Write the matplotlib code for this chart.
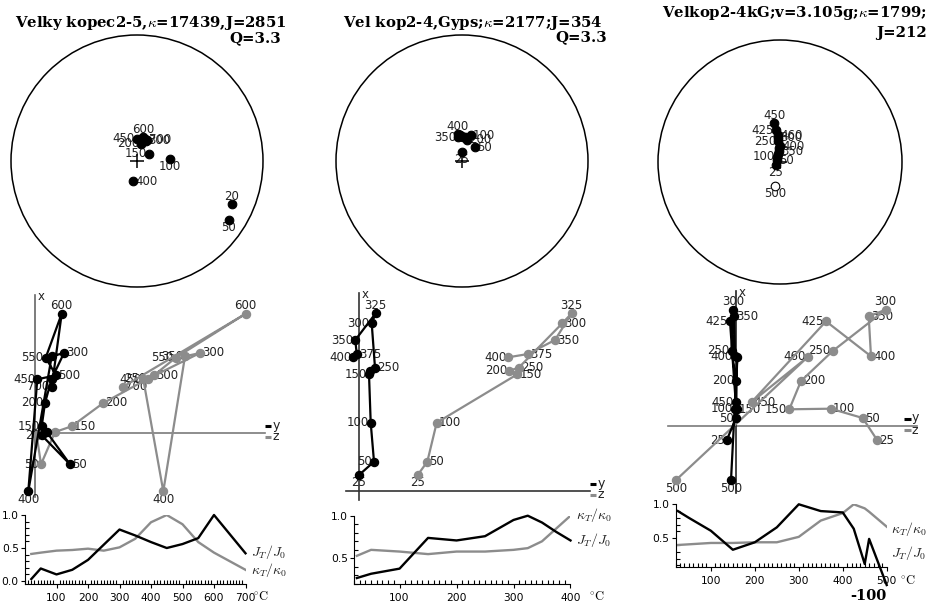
import matplotlib
matplotlib.use('Agg')
import matplotlib.pyplot as plt
from matplotlib.patches import Circle
from matplotlib.ticker import MultipleLocator, FixedLocator

plt.rcParams['mathtext.fontset'] = 'cm'
plt.rcParams['axes.unicode_minus'] = False
plt.rcParams['font.family'] = ['Liberation Sans Narrow', 'DejaVu Sans']

W, H = 929, 605
GRAY = '#8c8c8c'

# ---- sample 1: Velky kopec 2-5 ----
T1 = [20, 50, 100, 150, 200, 250, 300, 350, 400, 450, 500, 550, 600, 700]
J1 = [0.03, 0.19, 0.10, 0.17, 0.32, 0.55, 0.78, 0.69, 0.59, 0.50, 0.56, 0.65, 1.00, 0.42]
K1 = [0.41, 0.43, 0.46, 0.47, 0.49, 0.46, 0.51, 0.64, 0.89, 1.00, 0.86, 0.59, 0.43, 0.17]
# Zijderveld components (x vertical, y black, z gray)
zx1 = [-2.3, -31.3, 1.0, 6.7, 30.0, 54.3, 80.0, 76.7, -58.3, 53.7, 57.7, 75.3, 119.3, 46.0]
zy1 = [6.7, 35.0, 11.7, 6.7, 10.0, 16.7, 29.0, 16.7, -6.7, 2.3, 21.0, 10.7, 26.7, 16.7]
zz1 = [1.7, 6.0, 20.0, 36.7, 68.3, 113.0, 165.0, 150.0, 128.3, 108.3, 119.0, 140.7, 210.7, 87.7]
# stereonet positions (unit circle)
nx1 = [0.754, 0.730, 0.262, 0.095, 0.032, 0.040, 0.071, 0.056, -0.032, 0.000, 0.048, 0.063, 0.048, 0.079]
ny1 = [-0.341, -0.468, 0.016, 0.056, 0.135, 0.160, 0.159, 0.167, -0.159, 0.175, 0.167, 0.175, 0.190, 0.167]

# ---- sample 2: Vel kop 2-4, Gyps ----
T2 = [25, 50, 100, 150, 200, 250, 300, 325, 350, 375, 400]
J2 = [0.27, 0.32, 0.38, 0.74, 0.71, 0.76, 0.95, 1.00, 0.92, 0.81, 0.71]
K2 = [0.53, 0.60, 0.58, 0.55, 0.58, 0.58, 0.60, 0.62, 0.70, 0.85, 1.00]
zx2 = [16.0, 29.3, 68.3, 116.7, 120.3, 123.3, 167.7, 177.7, 151.0, 137.0, 133.7]
zy2 = [0.0, 15.0, 11.7, 10.0, 11.0, 16.0, 12.7, 16.7, -3.7, -2.3, -5.7]
zz2 = [58.7, 68.3, 77.7, 158.3, 150.3, 159.7, 203.3, 212.7, 196.0, 169.0, 149.3]
nx2 = [0.0, 0.103, 0.071, 0.024, 0.040, 0.008, -0.008, -0.024, -0.032, -0.016, -0.032]
ny2 = [0.071, 0.111, 0.206, 0.190, 0.170, 0.190, 0.198, 0.198, 0.190, 0.206, 0.214]

# ---- sample 3: Velkop 2-4kG ----
T3 = [25, 50, 100, 150, 200, 250, 300, 350, 400, 425, 450, 460, 500]
J3 = [0.90, 0.80, 0.61, 0.33, 0.44, 0.66, 1.00, 0.90, 0.88, 0.64, 0.12, 0.49, -0.19]
K3 = [0.40, 0.41, 0.43, 0.43, 0.44, 0.44, 0.52, 0.76, 0.87, 1.00, 0.94, 0.89, 0.67]
zx3 = [-14.3, 8.0, 17.3, 16.7, 45.0, 75.0, 116.3, 109.7, 69.7, 104.7, 24.0, 69.0, -54.3]
zy3 = [-9.3, 0.0, -1.0, 0.7, 0.0, -4.3, -2.7, -1.7, -1.0, -6.0, -0.3, 1.3, -5.0]
zz3 = [141.3, 126.7, 94.7, 53.3, 65.0, 96.7, 149.7, 132.7, 135.0, 90.0, 15.7, 71.7, -60.3]
nx3 = [-0.033, -0.025, -0.025, -0.016, -0.008, -0.016, -0.016, -0.008, 0.0, -0.033, -0.049, -0.016, -0.041]
ny3 = [-0.025, 0.016, 0.041, 0.066, 0.115, 0.172, 0.197, 0.090, 0.131, 0.262, 0.320, 0.221, -0.197]
upper3 = [500]   # open symbol

# label placement (l/r/t/b), missing = hidden
nlab1 = {20: 't', 50: 'b', 100: 'b', 150: 'l', 200: 'l', 300: 'r', 400: 'r', 450: 'l', 600: 't', 700: 'r'}
nlab2 = {25: 'b', 50: 'r', 100: 'r', 200: 'r', 350: 'l', 400: 't'}
nlab3 = {25: 'b', 50: 'r', 100: 'l', 250: 'l', 300: 'r', 350: 'r', 400: 'r', 425: 'l', 450: 't', 460: 'r', 500: 'b'}
zk1 = {20: 'l', 50: 'r', 150: 'l', 200: 'l', 300: 'r', 400: 'b', 450: 'l', 500: 'r', 550: 'l', 600: 't', 700: 'l'}
zg1 = {50: 'l', 150: 'r', 200: 'r', 250: 'l', 300: 'r', 350: 'l', 400: 'b', 450: 'l', 500: 'r', 550: 'l', 600: 't', 700: 'r'}
zk2 = {25: 'b', 50: 'l', 100: 'l', 150: 'l', 250: 'r', 300: 'l', 325: 't', 350: 'l', 375: 'r', 400: 'l'}
zg2 = {25: 'b', 50: 'r', 100: 'r', 150: 'r', 200: 'l', 250: 'r', 300: 'r', 325: 't', 350: 'r', 375: 'r', 400: 'l'}
zk3 = {25: 'l', 50: 'l', 100: 'l', 150: 'r', 200: 'l', 250: 'l', 300: 't', 350: 'r', 400: 'l', 425: 'l', 450: 'l', 500: 'b'}
zg3 = {25: 'r', 50: 'r', 100: 'r', 150: 'l', 200: 'r', 250: 'l', 300: 't', 350: 'r', 400: 'r', 425: 'l', 450: 'r', 460: 'l', 500: 'b'}

fig = plt.figure(figsize=(W / 100, H / 100), dpi=100)


def pax(x0, y0, x1, y1):
    return fig.add_axes([x0 / W, 1 - y1 / H, (x1 - x0) / W, (y1 - y0) / H])


def ftext(x, y, s, **kw):
    fig.text(x / W, 1 - y / H, s, **kw)


OFF = {'l': ((-1.5, 0), 'right', 'center'), 'r': ((1.5, 0), 'left', 'center'),
       't': ((0, 1), 'center', 'bottom'), 'b': ((0, -1), 'center', 'top')}


def put_labels(ax, xs, ys, temps, sides):
    for x, y, t in zip(xs, ys, temps):
        s = sides.get(t)
        if s is None:
            continue
        (dx, dy), ha, va = OFF[s]
        ax.annotate(str(t), (x, y), xytext=(dx, dy), textcoords='offset points',
                    ha=ha, va=va, fontsize=8.5, color='#222', zorder=2,
                    annotation_clip=False)


def net(cx, cy, R, nx, ny, temps, labels, hollow=()):
    ax = pax(cx - R - 10, cy - R - 10, cx + R + 10, cy + R + 10)
    m = (R + 10) / R
    ax.set_xlim(-m, m)
    ax.set_ylim(-m, m)
    ax.axis('off')
    ax.add_patch(Circle((0, 0), 1, fill=False, lw=1.1, ec='k'))
    ax.plot([0], [0], marker='+', ms=10, mew=1.1, color='k', zorder=3)
    for x, y, t in zip(nx, ny, temps):
        ax.plot(x, y, 'o', ms=6.2, mfc='white' if t in hollow else 'k', mec='k',
                mew=0.8, zorder=3)
    put_labels(ax, nx, ny, temps, labels)


def zijder(ox, oy, hx, vy, zx, zy, zz, temps, lk, lg, hcol, vcol, legx):
    ax = pax(ox + hx[0] - 10, oy - vy[1] - 10, ox + hx[1] + 30, oy - vy[0] + 10)
    ax.set_xlim(hx[0] - 10, hx[1] + 30)
    ax.set_ylim(vy[0] - 10, vy[1] + 10)
    ax.axis('off')
    ax.plot(hx, [0, 0], color=hcol, lw=1.2, zorder=1)
    ax.plot([0, 0], vy, color=vcol, lw=1.2, zorder=1)
    ax.plot(zz, zx, '-o', color=GRAY, ms=5.8, lw=1.6, zorder=3, clip_on=False)
    ax.plot(zy, zx, '-o', color='k', ms=5.8, lw=1.6, zorder=4, clip_on=False)
    put_labels(ax, zy, zx, temps, lk)
    put_labels(ax, zz, zx, temps, lg)
    ax.text(3, vy[1] - 2, 'x', ha='left', va='center', fontsize=8.5, color='#222')
    ax.plot([legx, legx + 6.5], [7, 7], color='k', lw=2.2, solid_capstyle='butt')
    ax.plot([legx, legx + 6.5], [-4, -4], color=GRAY, lw=2.2, solid_capstyle='butt')
    ax.text(legx + 7.5, 8, 'y', ha='left', va='center', fontsize=9, color='#222')
    ax.text(legx + 7.5, -4, 'z', ha='left', va='center', fontsize=9, color='#222')


def curves(box, T, J, K, xlim, ylim, xmaj, ymaj):
    ax = pax(*box)
    ax.plot(T, K, color=GRAY, lw=1.7)
    ax.plot(T, J, color='k', lw=1.7, clip_on=False)
    ax.set_xlim(*xlim)
    ax.set_ylim(*ylim)
    ax.patch.set_visible(False)
    for s in ('top', 'right'):
        ax.spines[s].set_visible(False)
    ax.xaxis.set_major_locator(FixedLocator(xmaj))
    ax.xaxis.set_minor_locator(MultipleLocator(10))
    ax.yaxis.set_major_locator(FixedLocator(ymaj))
    ax.yaxis.set_minor_locator(MultipleLocator(0.1))
    ax.tick_params(which='major', direction='out', length=3, width=0.8,
                   labelsize=7.7, pad=1.5)
    ax.tick_params(axis='x', which='major', pad=3.5)
    ax.tick_params(which='minor', direction='in', length=3, width=0.8)
    return ax


# stereonets
net(137, 161, 126, nx1, ny1, T1, nlab1)
net(462, 161, 126, nx2, ny2, T2, nlab2)
net(780, 162, 122, nx3, ny3, T3, nlab3, hollow=upper3)

# Zijderveld diagrams
zijder(35, 433, (-2, 230), (-64, 138), zx1, zy1, zz1, T1, zk1, zg1, '#7a7a7a', '#666666', 230)
zijder(359, 491, (-13, 231), (-9, 198), zx2, zy2, zz2, T2, zk2, zg2, '#333333', '#333333', 231)
zijder(736, 426, (-68, 181), (-67, 135), zx3, zy3, zz3, T3, zk3, zg3, '#7a7a7a', '#222222', 168)

# normalised intensity / susceptibility curves
curves((25, 515, 245.5, 584), T1, J1, K1, (0, 700), (-0.045, 1.0), range(100, 701, 100), [0, 0.5, 1.0])
curves((354, 515.7, 570.5, 584), T2, J2, K2, (20, 400), (0.2, 1.0), range(100, 401, 100), [0.5, 1.0])
curves((675.7, 504.3, 886.7, 566.7), T3, J3, K3, (20, 500), (0.08, 1.0), range(100, 501, 100), [0.5, 1.0])

ML = dict(fontsize=10, color='#222', ha='left', va='center')
ftext(251, 552, r'$J_T/J_0$', **ML)
ftext(251, 570, r'$\kappa_T/\kappa_0$', **ML)
ftext(576, 540, r'$J_T/J_0$', **ML)
ftext(576, 515, r'$\kappa_T/\kappa_0$', **ML)
ftext(891, 553, r'$J_T/J_0$', **ML)
ftext(891, 529, r'$\kappa_T/\kappa_0$', **ML)
DC = dict(fontsize=9, ha='left', va='center')
ftext(253, 596, r'$^{\circ}\mathrm{C}$', **DC)
ftext(589, 596, r'$^{\circ}\mathrm{C}$', **DC)
ftext(900, 581, r'$^{\circ}\mathrm{C}$', **DC)
ftext(868, 596, '-100', family='DejaVu Serif', weight='bold', fontsize=10.5,
      ha='center', va='center')

# titles
TT = dict(family='DejaVu Serif', weight='bold', fontsize=10.7, ha='right', va='baseline')
ftext(286, 27, r'Velky kopec2-5,$\kappa$=17439,J=2851', **TT)
ftext(281, 42, 'Q=3.3', **TT)
ftext(603, 27, r'Vel kop2-4,Gyps;$\kappa$=2177;J=354', **TT)
ftext(607, 41, 'Q=3.3', **TT)
ftext(927, 17, r'Velkop2-4kG;v=3.105g;$\kappa$=1799;', **TT)
ftext(927, 37, 'J=212', **TT)

fig.savefig('out.png', dpi=100)
